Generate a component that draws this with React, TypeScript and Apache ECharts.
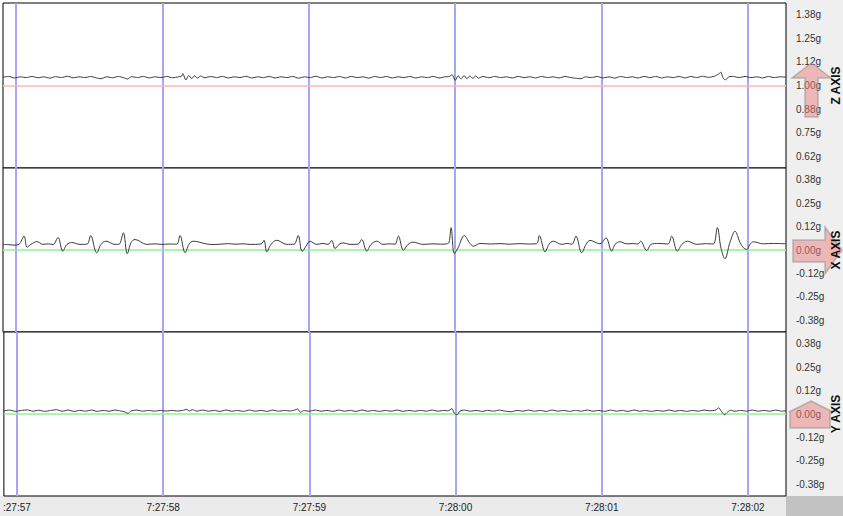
import React, { useEffect, useRef } from "react";
import * as echarts from "echarts";

// x: seconds after 7:27:57
const secondTicks = [0, 1, 2, 3, 4, 5];
const secondLabels = [":27:57", "7:27:58", "7:27:59", "7:28:00", "7:28:01", "7:28:02"];

const zTickValues = [0.625, 0.75, 0.875, 1, 1.125, 1.25, 1.375];
const zTickLabels = ["0.62g", "0.75g", "0.88g", "1.00g", "1.12g", "1.25g", "1.38g"];
const xyTickValues = [-0.375, -0.25, -0.125, 0, 0.125, 0.25, 0.375];
const xyTickLabels = ["-0.38g", "-0.25g", "-0.12g", "0.00g", "0.12g", "0.25g", "0.38g"];

const panelTitles = ["Z AXIS", "X AXIS", "Y AXIS"];
const referenceValues = [1, 0, 0];

const zSamples: [number, number][] = [
  [-0.089, 1.044], [-0.05, 1.048], [-0.01, 1.040], [0.03, 1.046], [0.07, 1.042], [0.11, 1.048], [0.15, 1.041],
  [0.19, 1.046], [0.23, 1.039], [0.27, 1.047], [0.31, 1.042], [0.35, 1.049], [0.39, 1.041], [0.43, 1.046],
  [0.47, 1.042], [0.51, 1.048], [0.55, 1.040], [0.58, 1.036], [0.62, 1.046], [0.66, 1.041], [0.7, 1.048],
  [0.74, 1.040], [0.76, 1.034], [0.79, 1.047], [0.83, 1.042], [0.87, 1.048], [0.91, 1.040], [0.95, 1.046],
  [0.99, 1.042], [1.03, 1.048], [1.07, 1.041], [1.11, 1.046], [1.13, 1.049], [1.14, 1.063], [1.16, 1.029],
  [1.18, 1.053], [1.2, 1.037], [1.22, 1.052], [1.24, 1.039], [1.26, 1.050], [1.29, 1.041], [1.33, 1.048],
  [1.37, 1.042], [1.41, 1.048], [1.45, 1.040], [1.49, 1.046], [1.53, 1.042], [1.57, 1.049], [1.61, 1.040],
  [1.65, 1.046], [1.69, 1.042], [1.73, 1.048], [1.77, 1.040], [1.81, 1.046], [1.85, 1.042], [1.89, 1.048],
  [1.93, 1.039], [1.97, 1.046], [2.01, 1.042], [2.05, 1.049], [2.09, 1.040], [2.13, 1.046], [2.17, 1.042],
  [2.21, 1.048], [2.25, 1.040], [2.29, 1.048], [2.33, 1.042], [2.37, 1.046], [2.41, 1.039], [2.45, 1.048],
  [2.49, 1.042], [2.53, 1.048], [2.57, 1.040], [2.61, 1.046], [2.65, 1.042], [2.69, 1.048], [2.73, 1.040],
  [2.77, 1.046], [2.81, 1.042], [2.85, 1.048], [2.89, 1.040], [2.93, 1.046], [2.96, 1.048], [2.98, 1.057],
  [3.0, 1.027], [3.02, 1.052], [3.04, 1.034], [3.06, 1.053], [3.08, 1.036], [3.1, 1.051], [3.12, 1.038],
  [3.14, 1.050], [3.16, 1.039], [3.19, 1.048], [3.23, 1.041], [3.27, 1.048], [3.31, 1.042], [3.35, 1.046],
  [3.39, 1.040], [3.43, 1.048], [3.47, 1.042], [3.51, 1.046], [3.55, 1.040], [3.59, 1.048], [3.63, 1.042],
  [3.67, 1.046], [3.71, 1.040], [3.75, 1.048], [3.79, 1.042], [3.83, 1.038], [3.86, 1.036], [3.89, 1.046],
  [3.93, 1.042], [3.97, 1.048], [4.01, 1.040], [4.05, 1.046], [4.09, 1.039], [4.13, 1.048], [4.17, 1.042],
  [4.21, 1.046], [4.25, 1.040], [4.29, 1.048], [4.33, 1.042], [4.37, 1.048], [4.41, 1.040], [4.45, 1.046],
  [4.49, 1.042], [4.53, 1.048], [4.57, 1.040], [4.61, 1.048], [4.65, 1.042], [4.69, 1.049], [4.73, 1.043],
  [4.77, 1.049], [4.8, 1.061], [4.815, 1.071], [4.83, 1.040], [4.845, 1.030], [4.87, 1.046], [4.9, 1.048],
  [4.94, 1.042], [4.98, 1.048], [5.02, 1.042], [5.06, 1.046], [5.1, 1.040], [5.14, 1.048], [5.18, 1.042],
  [5.22, 1.046], [5.26, 1.044],
];

const xSamples: [number, number][] = [
  [-0.089, 0.03], [-0.041, 0.028], [-0.014, 0.026], [0.02, 0.03], [0.055, 0.074], [0.075, 0.015], [0.102, 0.03],
  [0.143, 0.045], [0.184, 0.03], [0.22, 0.033], [0.253, 0.029], [0.287, 0.067], [0.319, -0.006], [0.348, 0.03], [0.38, 0.04],
  [0.437, 0.03], [0.485, 0.031], [0.51, 0.077], [0.551, -0.015], [0.581, 0.03], [0.615, 0.047], [0.676, 0.03],
  [0.704, 0.031], [0.733, 0.092], [0.76, -0.02], [0.786, 0.04], [0.813, 0.056], [0.893, 0.03], [0.95, 0.033], [0.997, 0.03],
  [1.05, 0.032], [1.098, 0.031], [1.12, 0.077], [1.155, -0.015], [1.182, 0.03], [1.211, 0.047], [1.303, 0.032], [1.35, 0.029], [1.393, 0.031],
  [1.45, 0.034], [1.496, 0.031], [1.55, 0.033], [1.598, 0.03], [1.674, 0.032], [1.694, 0.052], [1.713, -0.01], [1.742, 0.03], [1.781, 0.052],
  [1.849, 0.03], [1.899, 0.031], [1.928, 0.077], [1.954, -0.008], [1.981, 0.02], [2.008, 0.047], [2.054, 0.03],
  [2.097, 0.035], [2.132, 0.03], [2.157, 0.051], [2.179, 0.008], [2.207, 0.03], [2.234, 0.038], [2.281, 0.03],
  [2.336, 0.031], [2.361, 0.056], [2.396, -0.006], [2.425, 0.03], [2.464, 0.047], [2.507, 0.03], [2.555, 0.033],
  [2.589, 0.031], [2.612, 0.074], [2.646, -0.001], [2.678, 0.03], [2.712, 0.042], [2.78, 0.03], [2.849, 0.033], [2.9, 0.031],
  [2.942, 0.033], [2.958, 0.04], [2.972, 0.119], [2.994, -0.019], [3.019, 0.01], [3.062, 0.077], [3.101, 0.035],
  [3.124, 0.02], [3.17, 0.035], [3.24, 0.032], [3.306, 0.034], [3.37, 0.031], [3.443, 0.034], [3.5, 0.032], [3.557, 0.034], [3.575, 0.077], [3.614, -0.01],
  [3.641, 0.03], [3.67, 0.047], [3.728, 0.03], [3.762, 0.035], [3.798, 0.031], [3.825, 0.074], [3.864, -0.015],
  [3.894, 0.03], [3.921, 0.051], [3.989, 0.033], [4.03, 0.065], [4.069, -0.006], [4.092, 0.03], [4.126, 0.044],
  [4.172, 0.033], [4.217, 0.034], [4.249, 0.032], [4.267, 0.047], [4.308, -0.003], [4.338, 0.03], [4.387, 0.035],
  [4.454, 0.032], [4.479, 0.074], [4.517, -0.006], [4.549, 0.03], [4.586, 0.047], [4.65, 0.03], [4.71, 0.034], [4.763, 0.032],
  [4.791, 0.119], [4.816, 0.01], [4.843, -0.047], [4.877, 0.04], [4.912, 0.1], [4.946, 0.04], [4.969, 0.012],
  [4.992, 0.003], [5.014, 0.03], [5.037, 0.044], [5.105, 0.033], [5.173, 0.035], [5.26, 0.033],
];

const ySamples: [number, number][] = [
  [-0.089, 0.017], [-0.05, 0.021], [-0.01, 0.014], [0.03, 0.019], [0.07, 0.022], [0.11, 0.015], [0.15, 0.02],
  [0.19, 0.014], [0.23, 0.019], [0.27, 0.023], [0.31, 0.015], [0.35, 0.021], [0.39, 0.014], [0.43, 0.019],
  [0.47, 0.015], [0.51, 0.021], [0.55, 0.014], [0.59, 0.019], [0.63, 0.015], [0.67, 0.021], [0.71, 0.016],
  [0.74, 0.011], [0.76, 0.003], [0.78, 0.016], [0.82, 0.021], [0.86, 0.015], [0.9, 0.019], [0.94, 0.015],
  [0.98, 0.019], [1.02, 0.016], [1.06, 0.019], [1.1, 0.016], [1.14, 0.02], [1.16, 0.025], [1.18, 0.016],
  [1.2, 0.023], [1.23, 0.015], [1.27, 0.021], [1.31, 0.015], [1.35, 0.019], [1.39, 0.014], [1.43, 0.021],
  [1.47, 0.015], [1.51, 0.019], [1.55, 0.014], [1.59, 0.021], [1.63, 0.015], [1.67, 0.019], [1.71, 0.014],
  [1.75, 0.021], [1.79, 0.015], [1.83, 0.019], [1.87, 0.016], [1.9, 0.021], [1.92, 0.027], [1.94, 0.009],
  [1.96, 0.018], [2.0, 0.015], [2.04, 0.021], [2.08, 0.015], [2.12, 0.019], [2.16, 0.014], [2.2, 0.021],
  [2.24, 0.015], [2.28, 0.019], [2.32, 0.014], [2.36, 0.021], [2.4, 0.015], [2.44, 0.019], [2.48, 0.014],
  [2.52, 0.019], [2.56, 0.015], [2.6, 0.021], [2.64, 0.014], [2.68, 0.019], [2.72, 0.015], [2.76, 0.019],
  [2.8, 0.015], [2.84, 0.021], [2.88, 0.015], [2.92, 0.019], [2.95, 0.017], [2.975, 0.029], [2.99, 0.006],
  [3.01, -0.005], [3.03, 0.016], [3.06, 0.021], [3.1, 0.015], [3.14, 0.019], [3.18, 0.014], [3.22, 0.019],
  [3.26, 0.015], [3.3, 0.021], [3.34, 0.015], [3.38, 0.012], [3.42, 0.019], [3.46, 0.015], [3.5, 0.021],
  [3.54, 0.015], [3.58, 0.019], [3.62, 0.014], [3.66, 0.021], [3.7, 0.015], [3.74, 0.019], [3.78, 0.014],
  [3.82, 0.019], [3.86, 0.015], [3.9, 0.021], [3.94, 0.015], [3.98, 0.019], [4.02, 0.014], [4.06, 0.021],
  [4.1, 0.015], [4.14, 0.019], [4.18, 0.014], [4.22, 0.021], [4.26, 0.015], [4.3, 0.019], [4.34, 0.014],
  [4.38, 0.019], [4.42, 0.015], [4.46, 0.021], [4.5, 0.015], [4.54, 0.019], [4.58, 0.014], [4.62, 0.019],
  [4.66, 0.015], [4.7, 0.021], [4.74, 0.017], [4.78, 0.021], [4.8, 0.033], [4.82, 0.012], [4.84, -0.004],
  [4.86, 0.01], [4.88, 0.02], [4.91, 0.015], [4.95, 0.019], [4.99, 0.015], [5.03, 0.021], [5.07, 0.015],
  [5.11, 0.019], [5.15, 0.015], [5.19, 0.021], [5.23, 0.015], [5.26, 0.017],
];

const W = 843;
const H = 516;
const PLOT_LEFT = 3;
const PLOT_RIGHT = 786;
const panels = [
  { top: 3, height: 165 },
  { top: 168, height: 164 },
  { top: 332, height: 164 },
];
const FONT = "'Liberation Sans', Arial, sans-serif";

export default function App() {
  const ref = useRef<HTMLDivElement>(null);

  useEffect(() => {
    if (!ref.current) return;
    const chart = echarts.init(ref.current, undefined, { renderer: "svg" });

    const seriesData = [zSamples, xSamples, ySamples];
    const tickValues = [zTickValues, xyTickValues, xyTickValues];
    const tickLabels = [zTickLabels, xyTickLabels, xyTickLabels];
    const yRanges = [
      [0.5625, 1.4375],
      [-0.4375, 0.4375],
      [-0.4375, 0.4375],
    ];
    const refColors = ["#ffb4b4", "#96ee96", "#96ee96"];

    const arrowStyle = { fill: "rgba(236,128,128,0.5)", stroke: "rgba(140,140,140,0.55)", lineWidth: 1.5 };

    const option: any = {
      animation: false,
      backgroundColor: "#ffffff",
      grid: panels.map((p) => ({
        left: PLOT_LEFT,
        right: W - PLOT_RIGHT,
        top: p.top,
        height: p.height,
        show: true,
        borderColor: "#000",
        borderWidth: 1,
        backgroundColor: "#ffffff",
        z: 1,
      })),
      xAxis: panels.map((_, i) => ({
        type: "value",
        gridIndex: i,
        min: -0.089,
        max: 5.26,
        show: i === 2,
        axisLine: { show: false },
        splitLine: { show: false },
        axisTick: { show: true, customValues: secondTicks, length: 3, lineStyle: { color: "#000", width: 1 } },
        axisLabel: {
          show: true,
          customValues: secondTicks,
          formatter: (v: number) => secondLabels[secondTicks.indexOf(Math.round(v))] ?? "",
          color: "#222",
          fontSize: 10,
          fontFamily: FONT,
          margin: 6,
        },
      })),
      yAxis: panels.map((_, i) => ({
        type: "value",
        gridIndex: i,
        position: "right",
        min: yRanges[i][0],
        max: yRanges[i][1],
        axisLine: { show: false },
        axisTick: { show: true, customValues: tickValues[i], length: 4, lineStyle: { color: "#000" } },
        axisLabel: {
          customValues: tickValues[i],
          formatter: (v: number) => {
            const k = tickValues[i].findIndex((t) => Math.abs(t - v) < 1e-6);
            return k >= 0 ? tickLabels[i][k] : "";
          },
          color: "#333",
          fontSize: 10,
          fontFamily: FONT,
          margin: 10,
        },
        splitLine: { show: true, lineStyle: { color: "#f1f1f1", width: 1 } },
      })),
      series: panels.map((_, i) => ({
        type: "line",
        xAxisIndex: i,
        yAxisIndex: i,
        data: seriesData[i],
        showSymbol: false,
        smooth: i === 1 ? 0.35 : 0.2,
        lineStyle: { color: "#3a3a3a", width: 1 },
        z: 3,
        markLine: {
          silent: true,
          symbol: ["none", "none"],
          label: { show: false },
          z: 2,
          data: [
            ...secondTicks.map((s) => ({ xAxis: s, lineStyle: { color: "#a6a6f7", width: 2, type: "solid" } })),
            { yAxis: referenceValues[i], lineStyle: { color: refColors[i], width: 1.5, type: "solid" } },
          ],
        },
      })),
      graphic: [
        { type: "rect", z: -10, shape: { x: PLOT_RIGHT, y: 0, width: W - PLOT_RIGHT, height: 497 }, style: { fill: "#efefef" } },
        { type: "rect", z: -10, shape: { x: 0, y: 496, width: PLOT_RIGHT, height: 20 }, style: { fill: "#ebebeb" } },
        { type: "rect", z: -10, shape: { x: PLOT_RIGHT, y: 496, width: W - PLOT_RIGHT, height: 20 }, style: { fill: "#c2c2c2" } },
        {
          type: "polygon",
          z: 50,
          shape: { points: [[811.5, 63], [831, 78], [818, 78], [818, 117], [805, 117], [805, 78], [792, 78]] },
          style: arrowStyle,
        },
        {
          type: "polygon",
          z: 50,
          shape: { points: [[793, 240], [825, 240], [825, 227], [842, 250], [825, 274], [825, 262], [793, 262]] },
          style: arrowStyle,
        },
        {
          type: "polygon",
          z: 50,
          shape: { points: [[811, 401], [833, 412], [830, 412], [830, 428], [790, 428], [790, 412], [789, 412]] },
          style: arrowStyle,
        },
        ...panelTitles.map((t, i) => ({
          type: "text",
          z: 60,
          x: 836,
          y: panels[i].top + panels[i].height / 2,
          rotation: Math.PI / 2,
          style: {
            text: t,
            fill: "#111",
            font: `bold 12px ${FONT}`,
            textAlign: "center",
            textVerticalAlign: "middle",
          },
        })),
      ],
    };

    chart.setOption(option);
    return () => chart.dispose();
  }, []);

  return <div ref={ref} style={{ position: "fixed", left: 0, top: 0, width: W, height: H }} />;
}
